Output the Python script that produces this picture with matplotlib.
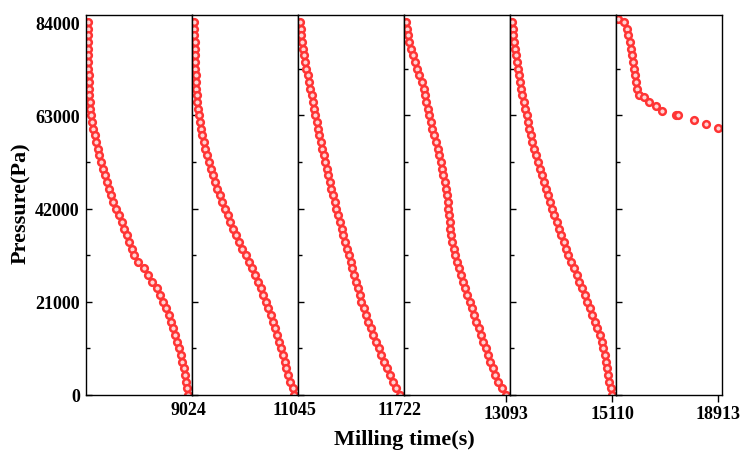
import numpy as np
import matplotlib.pyplot as plt

plt.rcParams['font.family'] = 'Liberation Serif'
plt.rcParams['font.weight'] = 'bold'

presion = [84000, 82500, 81000, 79500, 78000, 76500, 75000, 73500, 72000, 70500,
           69000, 67500, 66000, 64500, 63000, 61500, 60000, 58500, 57000, 55500,
           54000, 52500, 51000, 49500, 48000, 46500, 45000, 43500, 42000, 40500,
           39000, 37500, 36000, 34500, 33000, 31500, 30000, 28500, 27000, 25500,
           24000, 22500, 21000, 19500, 18000, 16500, 15000, 13500, 12000, 10500,
           9000, 7500, 6000, 4500, 3000, 1500, 0]

# tiempos (s) de cada panel
t1 = [7000, 7002, 7004, 7004, 7006, 7006, 7008, 7010, 7012, 7014,
      7018, 7024, 7034, 7048, 7064, 7080, 7102, 7134, 7168, 7200,
      7230, 7266, 7302, 7338, 7380, 7422, 7470, 7516, 7566, 7625,
      7680, 7730, 7782, 7832, 7882, 7928, 8002, 8138, 8222, 8292,
      8389, 8461, 8519, 8585, 8645, 8689, 8717, 8757, 8806, 8844,
      8874, 8900, 8934, 8966, 8990, 9010, 9024]
t2 = [9024, 9028, 9032, 9036, 9040, 9045, 9049, 9054, 9060, 9066,
      9071, 9079, 9093, 9106, 9120, 9142, 9165, 9189, 9220, 9254,
      9285, 9324, 9363, 9402, 9441, 9491, 9543, 9594, 9646, 9704,
      9759, 9818, 9873, 9937, 10000, 10065, 10128, 10188, 10248, 10309,
      10368, 10422, 10474, 10527, 10578, 10622, 10664, 10707, 10749, 10787,
      10822, 10858, 10887, 10921, 10973, 11020, 11045]
t3 = [11045, 11050, 11054, 11059, 11065, 11072, 11080, 11089, 11097, 11105,
      11114, 11123, 11131, 11140, 11149, 11158, 11168, 11177, 11187, 11197,
      11206, 11216, 11226, 11237, 11247, 11258, 11269, 11280, 11291, 11302,
      11314, 11327, 11338, 11350, 11362, 11375, 11387, 11399, 11411, 11423,
      11436, 11449, 11461, 11476, 11492, 11508, 11524, 11541, 11559, 11577,
      11596, 11615, 11635, 11656, 11677, 11698, 11722]
t4 = [11722, 11731, 11745, 11763, 11795, 11822, 11849, 11872, 11899, 11935,
      11972, 11981, 11999, 12022, 12040, 12063, 12085, 12108, 12131, 12154,
      12176, 12196, 12217, 12235, 12253, 12267, 12280, 12292, 12303, 12312,
      12321, 12330, 12344, 12358, 12376, 12398, 12421, 12448, 12476, 12503,
      12535, 12562, 12598, 12630, 12658, 12684, 12716, 12748, 12780, 12812,
      12843, 12875, 12911, 12947, 12988, 13035, 13093]
t5 = [13093, 13107, 13121, 13141, 13158, 13179, 13200, 13217, 13238, 13255,
      13275, 13300, 13327, 13355, 13386, 13413, 13444, 13475, 13506, 13544,
      13582, 13616, 13657, 13695, 13733, 13771, 13812, 13857, 13902, 13947,
      13991, 14036, 14084, 14133, 14181, 14232, 14284, 14339, 14394, 14449,
      14504, 14559, 14614, 14663, 14711, 14759, 14811, 14869, 14910, 14938,
      14959, 14983, 15007, 15031, 15058, 15083, 15110]

# panel 6 (no llega a cero)
p6 = [84700, 84000, 82500, 81000, 79500, 78000, 76500, 75000, 73500, 72000,
      70500, 69000, 67500, 67050, 66075, 65025, 64050, 63075, 63075, 61950,
      61050, 60075]
t6 = [15110, 15337, 15437, 15500, 15551, 15601, 15639, 15677, 15714, 15752,
      15790, 15828, 15903, 16092, 16306, 16545, 16797, 17301, 17401, 18006,
      18446, 18913]

inicio = [7000, 9024, 11045, 11722, 13093, 15110]
fin = [9024, 11045, 11722, 13093, 15110, 18913]

series = [(t1, presion), (t2, presion), (t3, presion), (t4, presion), (t5, presion), (t6, p6)]

fig = plt.figure(figsize=(7.45, 4.6), dpi=100)
izq, der, abajo, arriba = 86/745, 722/745, 64/460, 444/460
ancho = (der - izq) / 6

for i in range(6):
    ax = fig.add_axes([izq + i*ancho, abajo, ancho, arriba - abajo])
    x, y = series[i]
    ax.plot(x, y, 'o', markersize=4.8, markeredgewidth=1.8,
            markerfacecolor='#ffd4d4', markeredgecolor='#ff3434')
    rango = fin[i] - inicio[i]
    ax.set_xlim(inicio[i] - 0.02*rango, fin[i] + 0.04*rango)
    ax.set_ylim(0, 85600)
    ax.set_xticks([fin[i]])
    ax.set_xticklabels([str(fin[i])])
    ax.set_yticks([0, 21000, 42000, 63000, 84000])
    ax.set_yticks(np.arange(10500, 84000, 21000), minor=True)
    ax.tick_params(axis='y', which='major', direction='in', length=4.5, width=1,
                   pad=4.5, labelsize=13)
    ax.tick_params(axis='y', which='minor', direction='in', length=3, width=1)
    if i > 0:
        ax.tick_params(axis='y', labelleft=False)
    if i < 3:
        ax.tick_params(axis='x', length=0, pad=4.5, labelsize=13)
    else:
        ax.tick_params(axis='x', direction='out', length=5, width=1, pad=2.5, labelsize=13)
    for s in ax.spines.values():
        s.set_linewidth(1.0)

fig.text(404/745, 1 - 440/460, 'Milling time(s)', ha='center', va='center',
         fontsize=16, fontweight='bold')
fig.text(21/745, 1 - 203/460, 'Pressure(Pa)', ha='center', va='center',
         rotation=90, fontsize=16, fontweight='bold')

fig.savefig('out.png', dpi=100)
